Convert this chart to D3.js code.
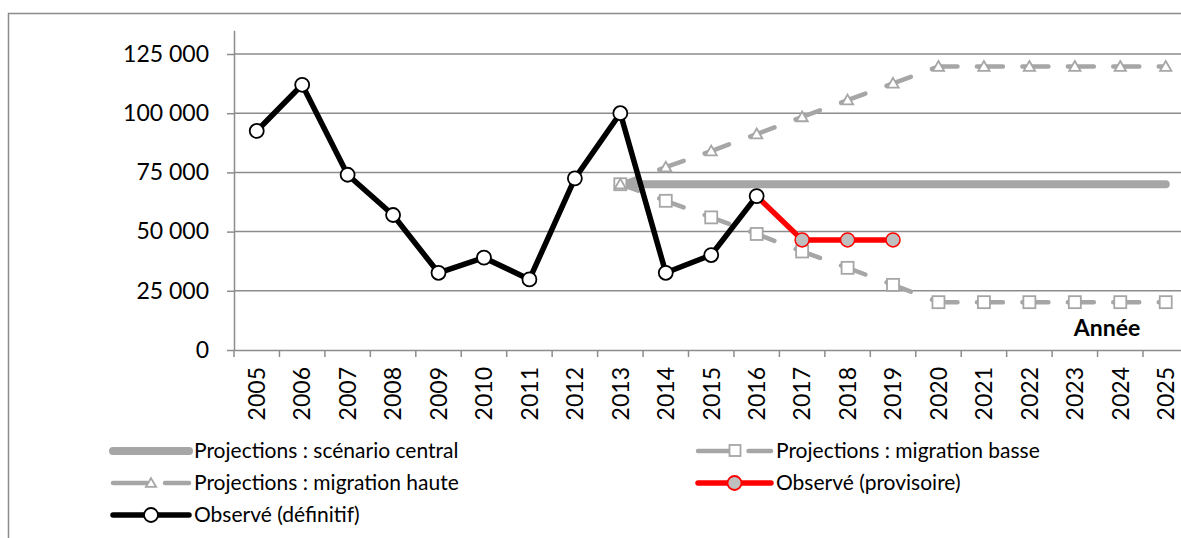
<html>
<head>
<meta charset="utf-8">
<script src="https://d3js.org/d3.v7.min.js"></script>
<style>
  body { margin: 0; background: #fff; }
  text { font-family: Lato, "Open Sans", sans-serif; fill: #000; }
</style>
</head>
<body>
<svg width="1181" height="538"></svg>
<script>
// categories (tick labels)
var years = ["2005","2006","2007","2008","2009","2010","2011","2012","2013","2014","2015",
             "2016","2017","2018","2019","2020","2021","2022","2023","2024","2025"];
var yTicks = [0, 25000, 50000, 75000, 100000, 125000];

// series
var defYears = ["2005","2006","2007","2008","2009","2010","2011","2012","2013","2014","2015","2016"];
var definitif = [92500, 112000, 74000, 57000, 32600, 39000, 29800, 72500, 100000, 32600, 40100, 65000];

var provYears = ["2016","2017","2018","2019"];
var provisoire = [65000, 46500, 46500, 46500];

var projYears = ["2013","2014","2015","2016","2017","2018","2019","2020","2021","2022","2023","2024","2025"];
var central = [70000, 70000, 70000, 70000, 70000, 70000, 70000, 70000, 70000, 70000, 70000, 70000, 70000];
var basse   = [70000, 63000, 56000, 49000, 41600, 34700, 27500, 20200, 20200, 20200, 20200, 20200, 20200];
var haute   = [70000, 77200, 84000, 91200, 98400, 105500, 112600, 119700, 119700, 119700, 119700, 119700, 119700];

var GREY = "#a6a6a6", AXIS = "#8c8c8c";

var svg = d3.select("svg");

// outer chart border (cropped on right / bottom)
svg.append("rect").attr("x", 8.5).attr("y", 13.5).attr("width", 1300).attr("height", 700)
  .attr("fill", "none").attr("stroke", AXIS).attr("stroke-width", 1.5);

var x = d3.scaleBand().domain(years).range([234, 234 + 21 * 45.45]).padding(0);
var y = d3.scaleLinear().domain([0, 135000]).range([350, 350 - 296 * 135 / 125]);
var cx = function(d) { return x(d) + x.bandwidth() / 2; };

var fr = d3.formatLocale({decimal: ",", thousands: " ", grouping: [3], currency: ["", " €"]});

// gridlines
svg.append("g").selectAll("line").data(yTicks.slice(1)).enter().append("line")
  .attr("x1", 234).attr("x2", 1300)
  .attr("y1", function(d) { return y(d); }).attr("y2", function(d) { return y(d); })
  .attr("stroke", AXIS).attr("stroke-width", 1.5);

// y axis
var gy = svg.append("g").attr("transform", "translate(234,0)")
  .call(d3.axisLeft(y).tickValues(yTicks).tickSize(7).tickSizeOuter(0).tickPadding(18)
        .tickFormat(fr.format(",")));
gy.selectAll("path,line").attr("stroke", AXIS).attr("stroke-width", 1.5);
gy.selectAll("text").style("font-size", "23px").attr("fill", "#000");

// x axis
var gx = svg.append("g").attr("transform", "translate(0,350)")
  .call(d3.axisBottom(x).tickSize(0).tickSizeOuter(0));
gx.select(".domain").attr("stroke", AXIS).attr("stroke-width", 1.5);
gx.selectAll("text")
  .style("font-size", "23px").style("text-anchor", "end").attr("fill", "#000")
  .attr("x", -17).attr("y", 0).attr("dy", "0.36em").attr("transform", "rotate(-90)");
svg.append("g").selectAll("line").data(years).enter().append("line")
  .attr("x1", function(d) { return x(d); }).attr("x2", function(d) { return x(d); })
  .attr("y1", 350).attr("y2", 357).attr("stroke", AXIS).attr("stroke-width", 1.5);

svg.append("text").attr("x", 1107).attr("y", 336).attr("text-anchor", "middle")
  .style("font-size", "23px").style("font-weight", "bold").text("Année");

var line = d3.line().x(function(d) { return cx(d[0]); }).y(function(d) { return y(d[1]); });
function pairs(ks, vs) { return ks.map(function(k, i) { return [k, vs[i]]; }); }

// central projection
svg.append("path").datum(pairs(projYears, central)).attr("d", line)
  .attr("fill", "none").attr("stroke", GREY).attr("stroke-width", 8).attr("stroke-linecap", "round");

// dashed projections: dash restarts on each segment
function dashed(data) {
  var g = svg.append("g");
  for (var i = 0; i < data.length - 1; i++) {
    var p = g.append("path").datum([data[i], data[i + 1]]).attr("d", line)
      .attr("fill", "none").attr("stroke", GREY).attr("stroke-width", 4.5).attr("stroke-linecap", "round");
    var L = p.node().getTotalLength();
    p.attr("stroke-dasharray", [19, L - 26, 7, L].join(" "));
  }
  return g;
}
var bData = pairs(projYears, basse), hData = pairs(projYears, haute);
dashed(bData);
dashed(hData);

function squares(g, data, s) {
  g.selectAll("rect.m").data(data).enter().append("rect")
    .attr("x", function(d) { return cx(d[0]) - s / 2; }).attr("y", function(d) { return y(d[1]) - s / 2; })
    .attr("width", s).attr("height", s)
    .attr("fill", "#fff").attr("stroke", GREY).attr("stroke-width", 1.8);
}
var tri = d3.symbol().type(d3.symbolTriangle).size(55);
function triangles(g, data) {
  g.selectAll("path.m").data(data).enter().append("path").attr("d", tri)
    .attr("transform", function(d) { return "translate(" + cx(d[0]) + "," + (y(d[1]) + 1) + ")"; })
    .attr("fill", "#fff").attr("stroke", GREY).attr("stroke-width", 1.8);
}
squares(svg.append("g"), bData, 12);
triangles(svg.append("g"), hData);

// observed provisional
var pData = pairs(provYears, provisoire);
svg.append("path").datum(pData).attr("d", line)
  .attr("fill", "none").attr("stroke", "#ff0000").attr("stroke-width", 5.5).attr("stroke-linejoin", "round");
svg.append("g").selectAll("circle").data(pData.slice(1)).enter().append("circle")
  .attr("cx", function(d) { return cx(d[0]); }).attr("cy", function(d) { return y(d[1]); }).attr("r", 7)
  .attr("fill", "#bfbfbf").attr("stroke", "#ff0000").attr("stroke-width", 1.5);

// observed final
var dData = pairs(defYears, definitif);
svg.append("path").datum(dData).attr("d", line)
  .attr("fill", "none").attr("stroke", "#000").attr("stroke-width", 5.5).attr("stroke-linejoin", "round");
svg.append("g").selectAll("circle").data(dData).enter().append("circle")
  .attr("cx", function(d) { return cx(d[0]); }).attr("cy", function(d) { return y(d[1]); }).attr("r", 7)
  .attr("fill", "#fff").attr("stroke", "#000").attr("stroke-width", 1.8);

// legend
var legendLabels = ["Projections : scénario central", "Projections : migration basse",
                    "Projections : migration haute", "Observé (provisoire)", "Observé (définitif)"];
var legPos = [[113, 451], [698, 451], [113, 483], [698, 483], [113, 515]];
var lg = svg.append("g");
legendLabels.forEach(function(lab, i) {
  var px = legPos[i][0], py = legPos[i][1], g = lg.append("g").attr("transform", "translate(" + px + "," + py + ")");
  var w = i % 2 === 0 ? 76 : 73, m = w / 2;
  if (i === 0) {
    g.append("line").attr("x1", 0).attr("x2", w).attr("stroke", GREY).attr("stroke-width", 8).attr("stroke-linecap", "round");
  } else if (i === 1 || i === 2) {
    g.append("line").attr("x1", 0).attr("x2", m - 4).attr("stroke", GREY).attr("stroke-width", 4.5).attr("stroke-linecap", "round");
    g.append("line").attr("x1", m + 14).attr("x2", w).attr("stroke", GREY).attr("stroke-width", 4.5).attr("stroke-linecap", "round");
    if (i === 1) g.append("rect").attr("x", m - 5).attr("y", -6).attr("width", 11).attr("height", 11)
      .attr("fill", "#fff").attr("stroke", GREY).attr("stroke-width", 1.8);
    else g.append("path").attr("d", d3.symbol().type(d3.symbolTriangle).size(45)).attr("transform", "translate(" + m + ",1)")
      .attr("fill", "#fff").attr("stroke", GREY).attr("stroke-width", 1.8);
  } else {
    var col = i === 3 ? "#ff0000" : "#000";
    g.append("line").attr("x1", 0).attr("x2", w).attr("stroke", col).attr("stroke-width", 5.5).attr("stroke-linecap", "round");
    g.append("circle").attr("cx", m).attr("r", 7).attr("fill", i === 3 ? "#bfbfbf" : "#fff")
      .attr("stroke", col).attr("stroke-width", 1.8);
  }
  g.append("text").attr("x", w + 5).attr("dy", "0.35em").style("font-size", "21px").text(lab);
});
</script>
</body>
</html>
